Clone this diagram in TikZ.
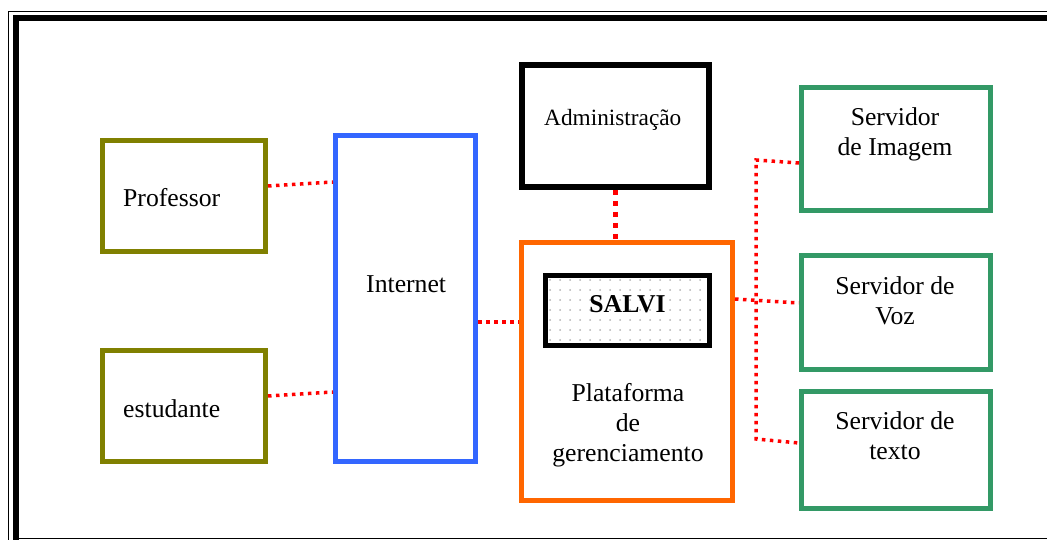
\documentclass[tikz,border=0pt]{standalone}
\usepackage{fontspec}
\setmainfont{Liberation Serif}
\usetikzlibrary{patterns.meta}

\definecolor{oliva}{HTML}{808000}
\definecolor{azul}{HTML}{3366FF}
\definecolor{laranja}{HTML}{FF6600}
\definecolor{verde}{HTML}{339966}

\begin{document}
\begin{tikzpicture}[x=1pt,y=-1pt]
  \tikzset{caixa/.style={draw, line width=5pt, inner sep=0pt},
           ligacao/.style={draw=red, line width=3.5pt, dash pattern=on 3.5pt off 4.5pt},
           rotulo/.style={font=\fontsize{25.7}{30}\selectfont, inner sep=0pt, align=center} }

  \clip (0,0) rectangle (1047,540);

  % moldura
  \draw[line width=1.5pt] (8.5,11.5) rectangle (1100,600);
  \draw[line width=6pt] (16,18.5) rectangle (1100,600);
  \draw[line width=1.5pt] (19,538.5) -- (1100,538.5);

  \node[caixa, draw=oliva, minimum width=163pt, minimum height=111pt] (prof) at (184,196) {};
  \node[caixa, draw=oliva, minimum width=163pt, minimum height=111pt] (estu) at (184,406) {};
  \node[caixa, draw=azul, minimum width=140pt, minimum height=326pt] (inet) at (405.5,298.5) {};
  \node[caixa, draw=black, line width=6pt, minimum width=187pt, minimum height=122pt] (admin) at (615.5,126) {};
  \node[caixa, draw=laranja, minimum width=211pt, minimum height=258pt] (plat) at (627,371.5) {};
  \node[caixa, draw=black, pattern={Dots[distance=10pt, radius=1pt]}, pattern color=gray!60,
        minimum width=164pt, minimum height=70pt] (salvi) at (627.5,310.5) {};
  \node[caixa, draw=verde, minimum width=189pt, minimum height=123pt] (img) at (896,149) {};
  \node[caixa, draw=verde, minimum width=189pt, minimum height=114pt] (voz) at (896,312.5) {};
  \node[caixa, draw=verde, minimum width=189pt, minimum height=117pt] (txt) at (896,450) {};

  \node[rotulo, anchor=base west] (profT) at (123,207) {Professor};
  \node[rotulo, anchor=base west] (estuT) at (123,417) {estudante};
  \node[rotulo, anchor=base west] (inetT) at (366,292) {Internet};
  \node[rotulo, anchor=base west, font=\fontsize{23.3}{28}\selectfont] (adminT) at (544,126) {Administração};
  \node[rotulo, anchor=base, font=\fontsize{25.7}{30}\selectfont\bfseries] (salviT) at (627.5,312) {SALVI};
  % ancora base = ultima linha
  \node[rotulo, anchor=base] (platT) at (628,461) {Plataforma\\de\\gerenciamento};
  \node[rotulo, anchor=base] (imgT) at (895,156) {Servidor\\de Imagem};
  \node[rotulo, anchor=base] (vozT) at (895,324) {Servidor de\\Voz};
  \node[rotulo, anchor=base] (txtT) at (895,459) {Servidor de\\texto};

  \coordinate (busA) at (756,160);
  \coordinate (busB) at (756,439);

  \draw[ligacao] (prof.east |- 0,186) -- (inet.west |- 0,182);
  \draw[ligacao] (estu.east |- 0,396) -- (inet.west |- 0,392);
  \draw[ligacao] (inet.east |- 0,322) -- (plat.west |- 0,322);
  \draw[ligacao, line width=5pt, dash pattern=on 5pt off 6pt] (admin.south) -- (admin.south |- plat.north);
  \draw[ligacao] (plat.east |- 0,299) -- (voz.west |- 0,303);
  \draw[ligacao] (img.west |- 0,163) -- (busA) -- (busB) -- (txt.west |- 0,443);
\end{tikzpicture}
\end{document}
